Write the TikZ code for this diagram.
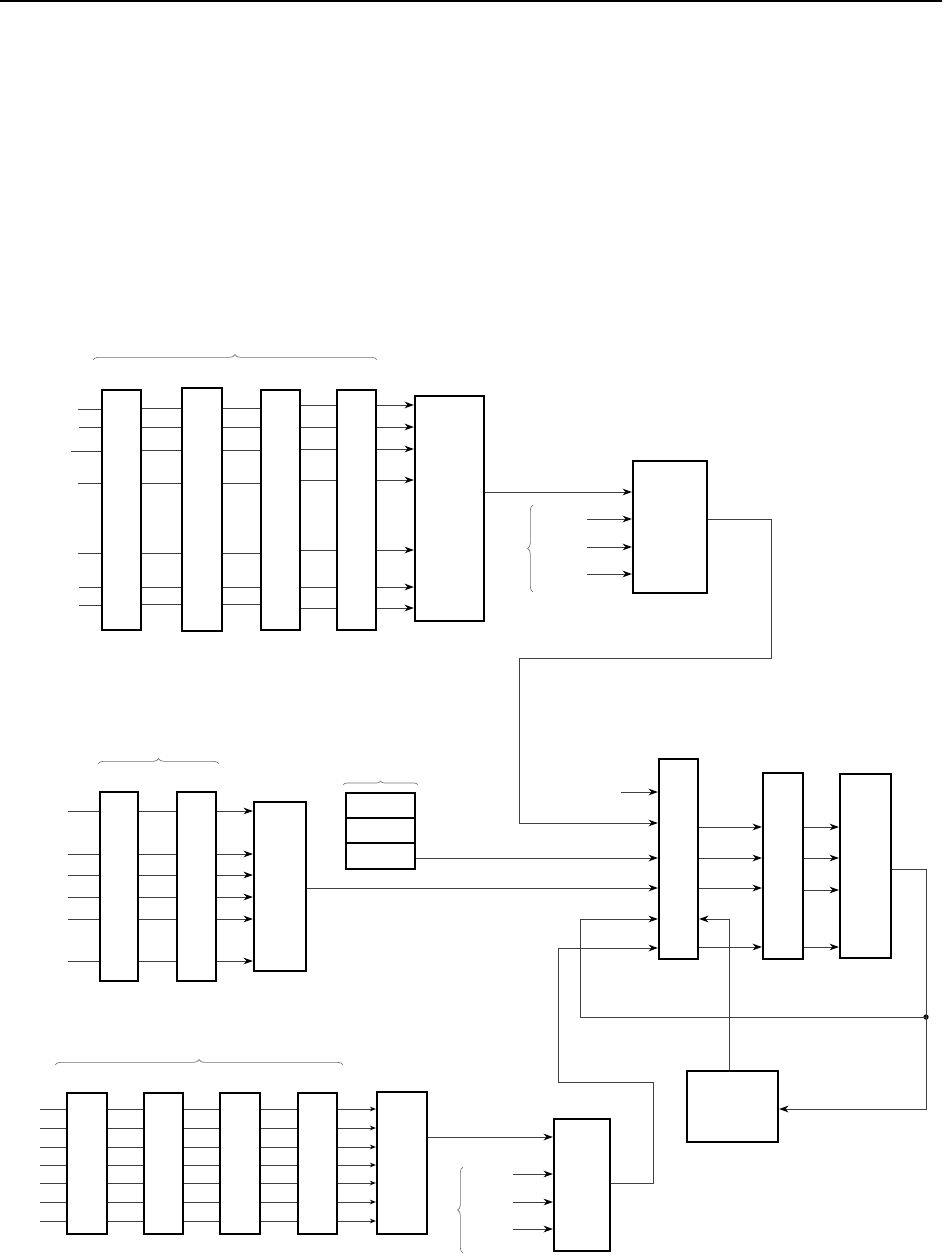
\documentclass[tikz,border=0pt]{standalone}
\usetikzlibrary{arrows.meta,decorations.pathreplacing,fit}
\tikzset{
 box/.style={draw, line width=1.7pt, inner sep=0pt},
 wire/.style={draw=black!75, line width=0.7pt},
 arr/.style={wire, -{Stealth[length=7pt,width=5pt,color=black]}},
 sarr/.style={wire, -{Stealth[length=4.5pt,width=3.5pt,color=black]}},
 br/.style={draw=black!55, line width=0.5pt, decorate, decoration={brace,amplitude=4pt}},
 sbr/.style={draw=black!55, line width=0.5pt, decorate, decoration={brace,amplitude=3pt}},
 dotnode/.style={circle, fill, inner sep=0pt, minimum size=4pt},
}
\newcommand\bx[5]{\node[box,fit={(#2,#3)(#4,#5)}] (#1) {};}
\begin{document}
\begin{tikzpicture}[x=0.75pt,y=-0.75pt]
\useasboundingbox (0,0) rectangle (942,1255);
% header rule
\draw[line width=2pt] (0,1) -- (942,1);

% ---------- top group ----------
\bx{B1}{102}{390}{141}{630}
\bx{B2}{182}{388}{222}{631}
\bx{B3}{261}{390}{300}{630}
\bx{B4}{337}{390}{376}{630}
\bx{B5}{415}{396}{484}{621}
\bx{C}{633}{461}{707}{593}
\draw[br] (93,360) -- (377,360);
\foreach \y/\x in {409/78,427/79,451/71,483/78,553/78,587/79,605/79}
  \draw[wire] (\x,\y) -- (B1.west |- 0,\y);
\foreach \y in {408,427,450,483,553,587,604} {
  \draw[wire] (B1.east |- 0,\y) -- (B2.west |- 0,\y);
  \draw[wire] (B2.east |- 0,\y) -- (B3.west |- 0,\y);
}
\foreach \y in {405,427,449,480,550,587,608} {
  \draw[wire] (B3.east |- 0,\y) -- (B4.west |- 0,\y);
  \draw[arr] (B4.east |- 0,\y) -- (B5.west |- 0,\y);
}
\draw[arr] (B5.east |- 0,492) -- (C.west |- 0,492);
\foreach \y in {519,547,574}
  \draw[arr] (587,\y) -- (C.west |- 0,\y);
\draw[br] (533,592) -- (533,505);

% ---------- middle group ----------
\bx{M1}{100}{792}{138}{981}
\bx{M2}{177}{792}{216}{981}
\bx{M3}{254}{802}{306}{971}
\draw[br] (98,764) -- (219,764);
\foreach \y in {811,854,875,897,919,961} {
  \draw[wire] (68,\y) -- (M1.west |- 0,\y);
  \draw[wire] (M1.east |- 0,\y) -- (M2.west |- 0,\y);
  \draw[arr] (M2.east |- 0,\y) -- (M3.west |- 0,\y);
}
\bx{S1}{346}{793}{415}{818}
\bx{S2}{346}{818}{415}{843}
\bx{S3}{346}{843}{415}{869}
\draw[sbr] (343,785) -- (418,785);

% ---------- right group ----------
\bx{D}{659}{759}{698}{959}
\bx{F}{763}{773}{803}{959}
\bx{G}{840}{774}{891}{958}
\bx{E}{687}{1071}{778}{1142}
\node[dotnode] (dot) at (926,1017) {};
\draw[arr] (621,792) -- (D.west |- 0,792);
\draw[arr] (C.east |- 0,519) -| (771,658) -| (519,823) -- (D.west |- 0,823);
\draw[arr] (S3.east |- 0,858) -- (D.west |- 0,858);
\draw[arr] (M3.east |- 0,888) -- (D.west |- 0,888);
\foreach \y in {827,858,888,947}
  \draw[arr] (D.east |- 0,\y) -- (F.west |- 0,\y);
\foreach \y in {827,858,890,947}
  \draw[arr] (F.east |- 0,\y) -- (G.west |- 0,\y);
\draw[wire] (G.east |- 0,869) -| (dot.center);
\draw[arr] (dot.center) |- (E.east |- 0,1109);
\draw[arr] (dot.center) -| (580,919) -- (D.west |- 0,919);
\draw[arr] (E.north -| 729,0) |- (D.east |- 0,919);

% ---------- bottom group ----------
\bx{L1}{67}{1093}{107}{1234}
\bx{L2}{144}{1093}{183}{1234}
\bx{L3}{220}{1093}{260}{1234}
\bx{L4}{298}{1093}{337}{1234}
\bx{L5}{377}{1092}{427}{1234}
\bx{N}{554}{1119}{610}{1251}
\draw[br] (55,1065) -- (343,1065);
\foreach \y in {1109,1128,1147,1165,1183,1202,1221} {
  \draw[wire] (40,\y) -- (L1.west |- 0,\y);
  \draw[wire] (L1.east |- 0,\y) -- (L2.west |- 0,\y);
  \draw[wire] (L2.east |- 0,\y) -- (L3.west |- 0,\y);
  \draw[wire] (L3.east |- 0,\y) -- (L4.west |- 0,\y);
  \draw[sarr] (L4.east |- 0,\y) -- (L5.west |- 0,\y);
}
\draw[arr] (L5.east |- 0,1137) -- (N.west |- 0,1137);
\foreach \y in {1174,1202,1229}
  \draw[arr] (513,\y) -- (N.west |- 0,\y);
\draw[br] (463,1253) -- (463,1167);
\draw[arr] (N.east |- 0,1183) -| (653,1082) -| (558,948) -- (D.west |- 0,948);
\end{tikzpicture}
\end{document}
